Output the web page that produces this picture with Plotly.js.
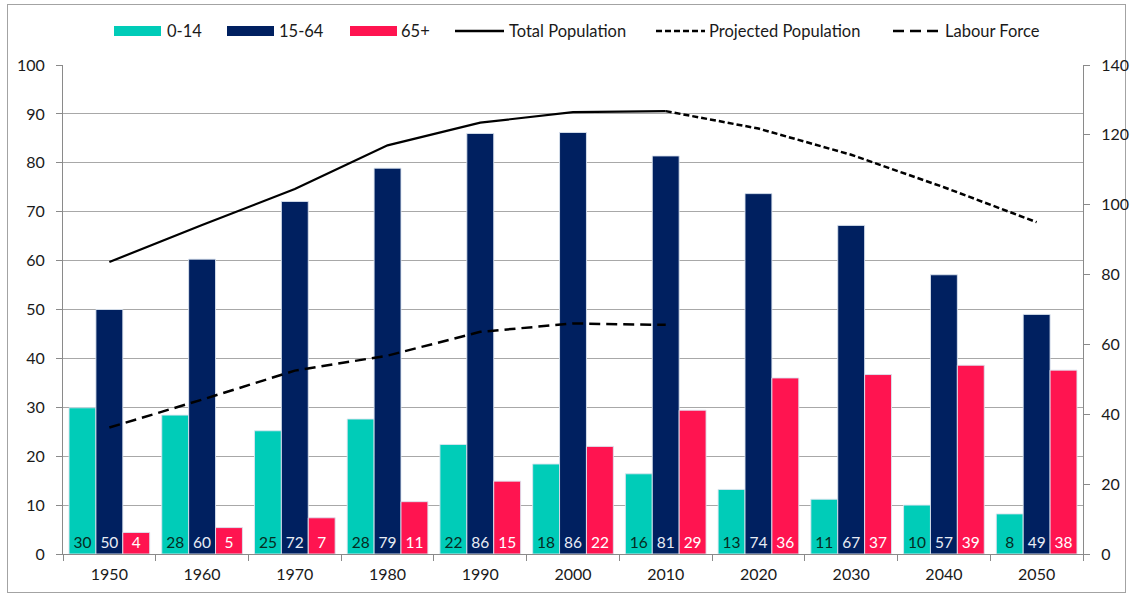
<!DOCTYPE html>
<html>
<head>
<meta charset="utf-8">
<script src="https://cdn.plot.ly/plotly-3.0.1.min.js"></script>
<style>
  body { margin: 0; background: #ffffff; }
  #wrap { position: relative; width: 1131px; height: 598px; overflow: hidden; }
  #frame { position: absolute; left: 7px; top: 4px; width: 1119px; height: 589px; border: 1.5px solid #a3a3a3; box-sizing: border-box; }
  #chart { position: absolute; left: 0; top: 0; width: 1131px; height: 598px; }
</style>
</head>
<body>
<div id="wrap">
  <div id="frame"></div>
  <div id="chart"></div>
</div>
<script>
// ---- Data ----
const years = ['1950','1960','1970','1980','1990','2000','2010','2020','2030','2040','2050'];

// population by age group (left axis)
const age0to14  = [29.9, 28.4, 25.2, 27.6, 22.4, 18.4, 16.4, 13.2, 11.2, 10.0, 8.2];
const age15to64 = [50.0, 60.3, 72.1, 78.9, 86.0, 86.2, 81.4, 73.7, 67.2, 57.1, 49.0];
const age65plus = [4.4, 5.4, 7.4, 10.7, 14.9, 22.0, 29.4, 36.0, 36.7, 38.6, 37.6];

// lines (right axis)
const totalYears = ['1950','1960','1970','1980','1990','2000','2010'];
const totalPop   = [83.6, 94.2, 104.5, 117.0, 123.5, 126.5, 126.8];

const projYears  = ['2010','2020','2030','2040','2050'];
const projPop    = [126.8, 121.8, 114.3, 105.0, 95.0];

const labourYears = ['1950','1960','1970','1980','1990','2000','2010'];
const labourForce = [36.2, 44.2, 52.5, 56.8, 63.6, 66.0, 65.6];

const seriesNames = ['0-14', '15-64', '65+', 'Total Population', 'Projected Population', 'Labour Force'];

const leftTicks  = [0, 10, 20, 30, 40, 50, 60, 70, 80, 90, 100];
const rightTicks = [0, 20, 40, 60, 80, 100, 120, 140];

// ---- Styles ----
const FONT = 'Lato, Carlito, Calibri, "Open Sans", sans-serif';
const colTeal = '#00CCB8';
const colNavy = '#002060';
const colRed  = '#FF1450';
const axisGray = '#8a8a8a';
const gridGray = '#a8a8a8';

function lbl(arr) { return arr.map(v => String(Math.round(v))); }

function barTrace(name, vals, color, textColor) {
  return {
    type: 'bar', name: name, x: years, y: vals,
    marker: { color: color, line: { color: 'rgba(220,228,240,0.9)', width: 1 } },
    text: lbl(vals), textposition: 'inside', insidetextanchor: 'start',
    constraintext: 'none', textangle: 0,
    textfont: { family: FONT, size: 15.5, color: textColor },
    hoverinfo: 'x+y+name', cliponaxis: false
  };
}

const traces = [
  barTrace(seriesNames[0], age0to14, colTeal, '#062b22'),
  barTrace(seriesNames[1], age15to64, colNavy, '#e8ecf4'),
  barTrace(seriesNames[2], age65plus, colRed, '#ffffff'),
  { type: 'scatter', mode: 'lines', name: seriesNames[3], x: totalYears, y: totalPop, yaxis: 'y2',
    line: { color: '#000000', width: 2.2 } },
  { type: 'scatter', mode: 'lines', name: seriesNames[4], x: projYears, y: projPop, yaxis: 'y2',
    line: { color: '#000000', width: 2.5, dash: '6px,3px' } },
  { type: 'scatter', mode: 'lines', name: seriesNames[5], x: labourYears, y: labourForce, yaxis: 'y2',
    line: { color: '#000000', width: 2.5, dash: '11px,6px' } }
];

// ---- Custom legend (swatches + labels), pixel positions converted to paper ----
const M = { l: 63, r: 48, t: 65, b: 44 };
const W = 1131, H = 598;
const PW = W - M.l - M.r, PH = H - M.t - M.b;
const px = x => (x - M.l) / PW;
const py = y => (H - M.b - y) / PH;

const legendY = 31;
const legendItems = [
  { kind: 'box',  color: colTeal, x0: 114, x1: 161, tx: 165 },
  { kind: 'box',  color: colNavy, x0: 227, x1: 274, tx: 277 },
  { kind: 'box',  color: colRed,  x0: 350, x1: 397, tx: 399 },
  { kind: 'line', dash: 'solid',    x0: 455, x1: 504, tx: 507 },
  { kind: 'line', dash: '6px,3px',  x0: 656, x1: 705, tx: 707 },
  { kind: 'line', dash: '11px,6px', x0: 893, x1: 940, tx: 943 }
];
const shapes = [];
const annotations = [];
legendItems.forEach((it, i) => {
  if (it.kind === 'box') {
    shapes.push({ type: 'rect', xref: 'paper', yref: 'paper',
      x0: px(it.x0), x1: px(it.x1), y0: py(legendY + 5), y1: py(legendY - 5),
      fillcolor: it.color, line: { width: 0 } });
  } else {
    shapes.push({ type: 'line', xref: 'paper', yref: 'paper',
      x0: px(it.x0), x1: px(it.x1), y0: py(legendY), y1: py(legendY),
      line: { color: '#000', width: 2.5, dash: it.dash } });
  }
  annotations.push({ xref: 'paper', yref: 'paper', x: px(it.tx), y: py(legendY),
    xanchor: 'left', yanchor: 'middle', showarrow: false, text: seriesNames[i],
    font: { family: FONT, size: 16.5, color: '#1a1a1a' } });
});

const layout = {
  width: W, height: H,
  margin: M,
  paper_bgcolor: 'rgba(0,0,0,0)',
  plot_bgcolor: 'rgba(0,0,0,0)',
  font: { family: FONT, size: 15, color: '#1a1a1a' },
  showlegend: false,
  barmode: 'group',
  bargap: 0.13,
  bargroupgap: 0,
  xaxis: {
    type: 'category', tickson: 'boundaries',
    ticks: 'outside', ticklen: 6, tickcolor: axisGray, tickwidth: 1,
    showline: true, linecolor: axisGray, linewidth: 1,
    showgrid: false, zeroline: false,
    tickfont: { family: FONT, size: 16, color: '#1a1a1a' },
    ticklabelstandoff: 6
  },
  yaxis: {
    range: [0, 100], tickvals: leftTicks,
    ticks: 'outside', ticklen: 6, tickcolor: axisGray,
    showline: true, linecolor: axisGray, linewidth: 1,
    showgrid: true, gridcolor: gridGray, gridwidth: 1,
    zeroline: false,
    tickfont: { family: FONT, size: 16, color: '#1a1a1a' },
    ticklabelstandoff: 8
  },
  yaxis2: {
    overlaying: 'y', side: 'right',
    range: [0, 140], tickvals: rightTicks,
    ticks: 'outside', ticklen: 6, tickcolor: axisGray,
    showline: true, linecolor: axisGray, linewidth: 1,
    showgrid: false, zeroline: false,
    tickfont: { family: FONT, size: 16, color: '#1a1a1a' },
    ticklabelstandoff: 8
  },
  shapes: shapes,
  annotations: annotations
};

Plotly.newPlot('chart', traces, layout, { displayModeBar: false, staticPlot: true });
</script>
</body>
</html>
